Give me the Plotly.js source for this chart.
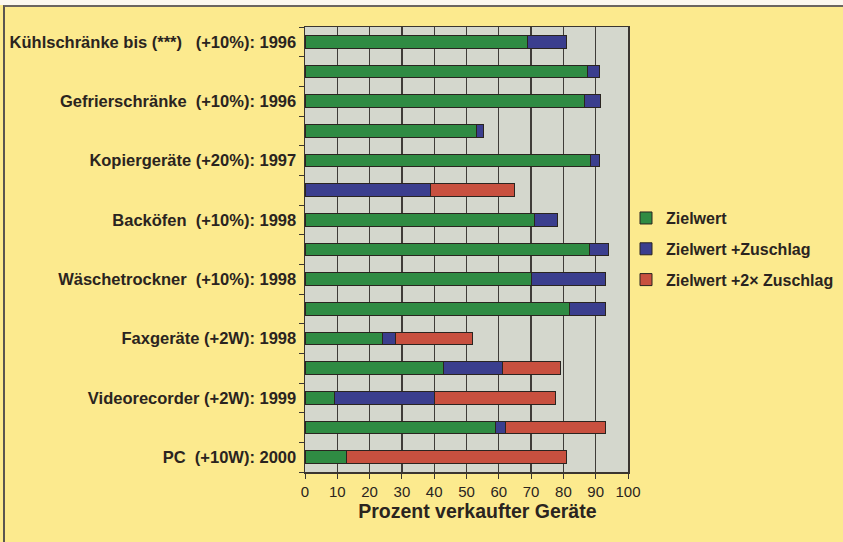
<!DOCTYPE html>
<html>
<head>
<meta charset="utf-8">
<script src="https://cdn.plot.ly/plotly-3.0.1.min.js"></script>
<style>
  html, body { margin: 0; padding: 0; background: #ffffff; }
  #wrap { position: relative; width: 843px; height: 542px; overflow: hidden; }
  #chart { position: absolute; left: 0; top: 0; width: 843px; height: 542px; }
  #frame { position: absolute; left: 3px; top: 5px; width: 845px; height: 545px;
           border-top: 2px solid #6b6660; border-left: 2px solid #5a5550; pointer-events: none; }
  #topstrip { position: absolute; left: 0; top: 0; width: 843px; height: 5px; background: #fbf8ef; pointer-events: none; }
</style>
</head>
<body>
<div id="wrap">
  <div id="chart"></div>
  <div id="topstrip"></div>
  <div id="frame"></div>
</div>
<script>
// Row labels (15 rows, label only on every other row)
const rowLabels = [
  "Kühlschränke bis (***)\u00a0\u00a0 (+10%): 1996", "",
  "Gefrierschränke\u00a0 (+10%): 1996", "",
  "Kopiergeräte (+20%): 1997", "",
  "Backöfen\u00a0 (+10%): 1998", "",
  "Wäschetrockner\u00a0 (+10%): 1998", "",
  "Faxgeräte (+2W): 1998", "",
  "Videorecorder (+2W): 1999", "",
  "PC\u00a0 (+10W): 2000"
];
// Segment lengths (percent)
const zielwert      = [69, 87.5, 86.5, 53, 88.3, 0, 71, 88, 70, 82, 24, 43, 9, 59, 13];
const zuschlag      = [12, 3.8, 5, 2.3, 3, 39, 7.3, 6, 23, 11, 4, 18, 31, 3, 0];
const zuschlag2     = [0, 0, 0, 0, 0, 26, 0, 0, 0, 0, 24, 18, 37.5, 31, 68];
const seriesNames   = ["Zielwert", "Zielwert +Zuschlag", "Zielwert +2\u00d7 Zuschlag"];
const xTicks        = [0, 10, 20, 30, 40, 50, 60, 70, 80, 90, 100];
const xTitle        = "Prozent verkaufter Geräte";

const rowIdx = rowLabels.map((_, i) => i);
const labelIdx = rowIdx.filter(i => rowLabels[i] !== "");
const labelText = labelIdx.map(i => rowLabels[i]);

const colors = ["#2f8b43", "#3b3e8e", "#c8503f"];
const lineCol = "#2a2420";
const allSeries = [zielwert, zuschlag, zuschlag2];

const traces = allSeries.map((vals, k) => ({
  type: "bar",
  orientation: "h",
  x: vals,
  y: rowIdx,
  name: seriesNames[k],
  legendgroup: "g" + k,
  width: 0.42,
  marker: { color: colors[k], line: { color: lineCol, width: 1 } },
  hoverinfo: "x+name"
}));

const layout = {
  width: 843, height: 542,
  margin: { l: 305, r: 215, t: 27, b: 70, pad: 0, autoexpand: false },
  paper_bgcolor: "#fcea8e",
  plot_bgcolor: "#d4d7cd",
  barmode: "stack",
  font: { family: "Liberation Sans, Arial, sans-serif", color: "#2a2420" },
  xaxis: {
    range: [0, 100],
    automargin: false,
    tickvals: xTicks,
    ticktext: xTicks.map(String),
    ticks: "outside", ticklen: 5, tickcolor: "#3a3530", tickwidth: 1,
    showgrid: true, gridcolor: "#3f3c38", gridwidth: 1.3,
    showline: true, linecolor: "#3a3530", linewidth: 1.5, mirror: true,
    zeroline: false,
    tickfont: { size: 15, color: "#2a2420" },
    title: { text: '<span style="color:rgba(0,0,0,0)">xx</span>' + xTitle, font: { size: 19.5, color: "#2a2420", family: "Liberation Sans, Arial, sans-serif", weight: "bold" }, standoff: 6 },
    fixedrange: true
  },
  yaxis: {
    range: [14.5, -0.5],
    automargin: false,
    tickvals: labelIdx,
    ticktext: labelText,
    ticks: "",
    ticklabelstandoff: 4,
    showgrid: false,
    showline: true, linecolor: "#3a3530", linewidth: 1.5, mirror: true,
    zeroline: false,
    tickfont: { size: 16.5, color: "#2a2420", weight: "bold" },
    minor: { ticks: "outside", ticklen: 5, tick0: 0.5, dtick: 1, tickcolor: "#3a3530", tickwidth: 1, showgrid: false },
    fixedrange: true
  },
  legend: {
    xref: "container", yref: "container",
    x: 0.7426, y: 0.629, xanchor: "left", yanchor: "top",
    bgcolor: "rgba(0,0,0,0)",
    traceorder: "grouped",
    tracegroupgap: 7,
    font: { size: 16, color: "#2a2420", weight: "bold" },
    itemwidth: 30
  },
  showlegend: true
};

Plotly.newPlot("chart", traces, layout, { displayModeBar: false, staticPlot: true });
</script>
</body>
</html>
